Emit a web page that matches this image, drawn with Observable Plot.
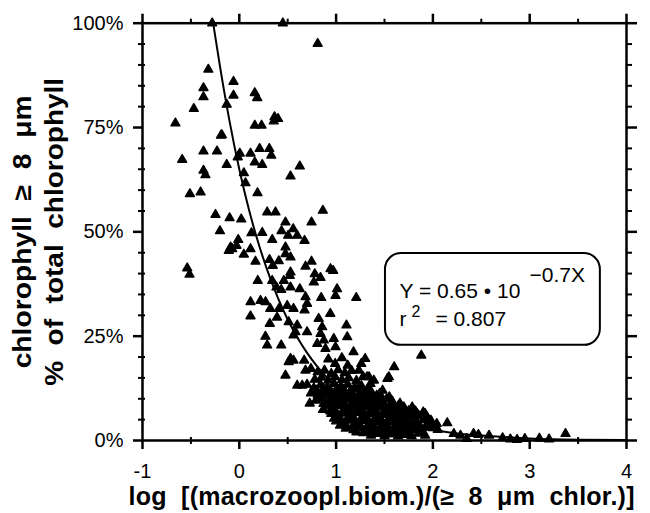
<!DOCTYPE html>
<html><head><meta charset="utf-8">
<script src="https://cdn.jsdelivr.net/npm/d3@7"></script>
<script src="https://cdn.jsdelivr.net/npm/@observablehq/plot@0.6"></script>
<style>body{margin:0;background:#fff} svg{display:block}</style>
</head><body><div id="chart"></div>
<script>
// ---- data ----
const xTicks = [-1, 0, 1, 2, 3, 4];
const xHalfTicks = [-0.5, 0.5, 1.5, 2.5, 3.5];
const yTicks = [0, 25, 50, 75, 100];
const yMinorTicks = [5, 10, 15, 20, 30, 35, 40, 45, 55, 60, 65, 70, 80, 85, 90, 95];

// scattered observations (x = log ratio, y = % of total chlorophyll)
const ptX = [
  -0.28,0.45,0.81,-0.32,-0.37,-0.37,-0.47,-0.66,-0.59,-0.37,
  -0.23,-0.37,-0.35,-0.51,-0.40,-0.19,-0.06,-0.06,0.16,0.185,
  -0.13,0.364,0.40,0.356,0.16,0.23,-0.18,0.005,-0.016,0.116,
  0.21,0.31,0.33,0.16,0.237,-0.13,0.625,0.529,0.047,0.064,
  0.188,0.288,0.374,0.863,-0.246,-0.10,0.02,0.477,0.746,-0.20,
  0.126,0.237,0.436,0.557,0.505,0.598,0.674,-0.011,-0.09,-0.029,
  0.34,0.116,0.477,0.047,-0.108,-0.073,0.477,0.529,0.312,0.346,
  0.408,0.167,0.746,0.684,0.942,0.97,-0.538,-0.514,0.529,0.522,
  0.78,0.839,0.191,0.34,0.384,0.46,0.433,0.529,0.625,0.77,
  1.01,0.994,0.846,1.208,0.684,0.70,0.116,0.116,0.219,0.271,
  0.32,0.41,0.495,0.56,0.674,0.94,0.39,0.315,0.51,0.598,
  0.58,0.56,0.70,0.82,0.856,0.839,0.873,0.805,0.89,0.976,
  0.994,1.107,1.115,0.27,0.288,0.433,0.529,0.56,0.51,0.67,
  0.684,0.477,0.598,0.65,0.728,0.866,1.18,1.26,1.235,1.34,
  1.39,1.53,1.60,1.48,1.42,1.88,1.545,1.32,1.355,1.786,
  1.838,1.92,1.94,2.148,1.70,1.63,1.70,2.216,2.285,2.42,
  2.47,2.35,2.87,3.37,2.58,2.80,2.95,3.10,3.20,2.72
];
const ptY = [
  100,100,95.1,88.9,84.5,82.3,79.5,76.0,67.3,69.3,
  69.3,64.7,63.6,59.1,59.5,73.1,86.0,82.7,83.3,82.1,
  80.5,77.5,77.1,76.5,75.5,75.5,73.2,68.8,67.9,68.8,
  69.9,69.9,68.3,66.7,66.1,66.1,65.7,63.3,64.1,61.7,
  59.3,54.7,54.7,55.1,54.1,53.3,53.0,52.3,52.3,50.2,
  49.7,49.8,50.2,50.7,49.1,49.1,47.9,48.1,46.3,46.7,
  48.1,45.9,46.3,44.6,45.5,45.9,44.7,43.9,43.3,41.9,
  43.0,42.9,42.9,41.7,41.1,40.7,41.3,39.8,40.3,39.5,
  39.9,39.0,38.3,38.3,36.7,38.3,36.1,36.7,36.3,37.9,
  36.3,34.7,34.2,34.2,34.4,32.8,33.2,29.8,33.5,33.2,
  31.6,31.6,32.3,31.6,31.2,30.4,29.5,28.0,28.4,27.6,
  26.0,25.2,26.0,29.2,27.2,25.6,24.0,23.2,22.0,24.4,
  22.4,27.6,24.8,24.9,22.8,22.8,19.6,19.2,18.8,19.2,
  16.8,15.6,13.2,13.2,8.9,7.4,21.2,18.4,16.8,15.2,
  14.4,14.8,17.6,12.0,10.8,20.4,15.2,15.2,13.6,8.0,
  6.4,6.4,5.6,4.2,8.0,4.0,3.2,1.6,1.2,1.6,
  1.4,0.4,0.2,1.6,1.2,0.3,0.4,0.5,0.3,0.6
];
// dense cluster of observations
const denseX = [
  0.92,0.99,1.06,1.12,1.30,
  0.74,0.81,0.88,0.95,1.02,1.09,1.16,
  0.78,0.85,0.92,0.99,1.06,1.13,1.21,1.28,
  0.70,0.77,0.84,0.91,0.98,1.05,1.12,1.19,1.26,1.33,
  0.74,0.81,0.88,0.95,1.02,1.09,1.16,1.23,1.30,1.37,1.45,1.55,
  0.79,0.86,0.93,1.00,1.07,1.14,1.21,1.28,1.35,1.42,1.49,1.58,1.66,
  0.91,0.97,1.04,1.11,1.18,1.25,1.32,1.39,1.46,1.53,1.60,1.75,
  0.95,1.02,1.09,1.16,1.23,1.30,1.37,1.44,1.51,1.58,1.65,1.72,1.80,
  1.00,1.07,1.14,1.21,1.28,1.35,1.42,1.49,1.56,1.77,1.85,1.98,
  1.10,1.18,1.25,1.32,1.39,1.46,1.53,1.60,1.67,1.74,1.81,1.89,2.05,
  1.36,1.43,1.50,1.57,1.64,1.71,1.78,1.92,
  0.80,0.87,0.94,1.01,1.08,1.15,1.22,1.29,1.36,
  0.83,0.90,0.97,1.04,1.11,1.18,1.25,1.32,1.39,1.46,1.52,
  0.87,0.94,1.01,1.08,1.15,1.22,1.29,1.36,1.43,1.50,1.57,1.64,
  0.94,1.00,1.07,1.14,1.21,1.28,1.35,1.42,1.49,1.56,1.63,1.70,
  0.98,1.05,1.12,1.19,1.26,1.33,1.40,1.47,1.54,1.61,1.68,1.76,
  1.04,1.11,1.18,1.25,1.32,1.39,1.46,1.53,1.60,1.67,1.74,1.81,1.92,
  1.21,1.28,1.35,1.42,1.49,1.56,1.63,1.70,1.85,
  1.62,1.69,1.76,1.83,1.90,1.96,1.66,1.73,1.80,1.87,1.94,2.00,
  1.62,1.68,1.82,1.90,1.72,1.78,1.86,1.93,1.98,2.04
];
const denseY = [
  19.5,18.4,19.8,18.0,19.6,
  17.2,16.4,16.8,16.0,16.9,16.2,16.7,
  14.6,15.1,14.4,15.2,14.5,15.0,14.3,15.3,
  13.4,12.6,13.3,12.8,13.6,12.9,13.4,12.7,13.1,12.4,
  11.3,10.9,11.6,11.0,11.7,11.1,11.5,10.8,11.4,10.6,11.2,10.4,
  9.6,10.0,9.4,9.9,9.3,9.8,9.2,9.7,9.1,9.6,9.0,9.4,8.9,
  8.2,7.7,8.3,7.6,8.1,7.5,8.0,7.4,7.9,7.3,7.8,7.1,
  6.4,5.9,6.5,6.0,6.6,5.8,6.3,5.7,6.2,5.6,6.1,5.5,5.9,
  4.6,4.1,4.8,4.2,4.7,4.0,4.5,3.9,4.4,4.3,3.8,3.6,
  2.9,2.5,3.0,2.4,2.8,2.2,2.7,2.1,2.6,2.0,2.5,2.3,2.6,
  1.2,1.6,1.1,1.5,1.0,1.4,1.1,1.2,
  12.0,12.4,12.1,12.5,12.2,12.0,12.3,11.9,11.8,
  10.3,10.6,10.2,10.5,10.4,10.1,10.3,10.0,10.2,10.1,9.9,
  8.8,8.6,8.9,8.7,8.5,8.8,8.6,8.4,8.7,8.3,8.5,8.2,
  7.0,6.8,7.1,6.9,7.2,6.7,7.0,6.6,6.9,6.5,6.8,6.4,
  5.3,5.0,5.4,5.1,5.3,4.9,5.2,4.8,5.1,4.9,5.0,4.7,
  3.6,3.4,3.7,3.5,3.3,3.6,3.2,3.5,3.1,3.4,3.2,3.0,3.1,
  2.0,1.8,2.1,1.9,1.7,2.0,1.8,1.6,1.7,
  5.2,4.6,5.0,4.5,4.9,4.4,3.8,3.5,3.7,3.3,3.6,3.0,
  7.3,7.6,7.0,6.8,6.6,6.2,5.8,5.3,4.8,4.0
];
// fitted curve (Y = 0.65·10^(−0.7X))
const fitX = [-0.27,-0.2,-0.1,0,0.1,0.2,0.3,0.4,0.5,0.6,0.7,0.8,0.9,1.0,1.2,1.4,1.6,1.8,2.0,2.25,2.5,3.0,3.5,4.0];
const fitY = [100,89.7,76.4,65,55.3,47.1,40.1,34.1,29.0,24.7,21.0,17.9,15.2,13.0,9.4,6.8,4.9,3.6,2.6,1.7,1.2,0.5,0.2,0.1];

const xTitle = "log  [(macrozoopl.biom.)/(\u2265  8  \u03bcm  chlor.)]";
const yTitle1 = "chlorophyll  \u2265  8  \u03bcm";
const yTitle2 = "%  of  total  chlorophyll";
const eqMain = "Y = 0.65 \u2022 10";
const eqExp = "\u22120.7X";
const r2Base = "r";
const r2Sup = "2";
const r2Value = "= 0.807";

// ---- layout ----
const W = 650, H = 513, mL = 142, mR = 24, mT = 22.7, mB = 73;
const pw = W - mL - mR, ph = H - mT - mB;
const font = "'Liberation Sans', Arial, Helvetica, sans-serif";

const points = ptX.map((x, i) => ({x, y: ptY[i]}))
  .concat(denseX.map((x, i) => ({x, y: denseY[i]})));
const fit = fitX.map((x, i) => ({x, y: fitY[i]}));

const chart = Plot.plot({
  width: W, height: H,
  marginLeft: mL, marginRight: mR, marginTop: mT, marginBottom: mB,
  style: {fontFamily: font, background: "white", color: "black", overflow: "visible"},
  x: {domain: [-1, 4]},
  y: {domain: [0, 100]},
  marks: [
    Plot.dot(points, {x: "x", y: "y", symbol: "triangle", r: 3.3, fill: "black", stroke: "black", strokeWidth: 1.4, strokeLinejoin: "round"}),
    Plot.line(fit, {x: "x", y: "y", curve: "natural", stroke: "black", strokeWidth: 2}),
    Plot.rect([0], {x1: 1.51, x2: 3.73, y1: 22.8, y2: 44.8, rx: 16, fill: "white", stroke: "black", strokeWidth: 2}),
    Plot.text([eqMain], {frameAnchor: "top-left", dx: 399 - mL, dy: 297 - mT, textAnchor: "start", lineAnchor: "bottom", fontSize: 21}),
    Plot.text([eqExp], {frameAnchor: "top-left", dx: 529 - mL, dy: 281 - mT, textAnchor: "start", lineAnchor: "bottom", fontSize: 21}),
    Plot.text([r2Base], {frameAnchor: "top-left", dx: 399 - mL, dy: 325 - mT, textAnchor: "start", lineAnchor: "bottom", fontSize: 21}),
    Plot.text([r2Sup], {frameAnchor: "top-left", dx: 411 - mL, dy: 316 - mT, textAnchor: "start", lineAnchor: "bottom", fontSize: 16}),
    Plot.text([r2Value], {frameAnchor: "top-left", dx: 435 - mL, dy: 325 - mT, textAnchor: "start", lineAnchor: "bottom", fontSize: 21}),
    Plot.frame({stroke: "black", strokeWidth: 2.5}),
    // left axis
    Plot.axisY(yTicks, {anchor: "left", tickSize: 9, tickPadding: 10, tickFormat: d => d + "%", fontSize: 20, label: null, strokeWidth: 2.5}),
    Plot.tickY(yMinorTicks, {y: d => d, insetLeft: -4, insetRight: pw - 3, stroke: "black", strokeWidth: 2}),
    // right axis
    Plot.axisY(yMinorTicks, {anchor: "right", tickSize: 5, tickFormat: () => "", label: null, strokeWidth: 2}),
    Plot.axisY(yTicks, {anchor: "right", tickSize: 10, tickFormat: () => "", label: null, strokeWidth: 2.5}),
    // top axis
    Plot.axisX(xTicks, {anchor: "top", tickSize: 10, tickFormat: () => "", label: null, strokeWidth: 2.5}),
    Plot.axisX(xHalfTicks, {anchor: "top", tickSize: 5, tickFormat: () => "", label: null, strokeWidth: 2}),
    // bottom axis
    Plot.axisX(xTicks, {anchor: "bottom", tickSize: 9, tickPadding: 14, tickFormat: d => String(d), fontSize: 20, label: null, strokeWidth: 2.5}),
    Plot.tickX(xHalfTicks, {x: d => d, insetTop: ph - 3, insetBottom: -4, stroke: "black", strokeWidth: 2}),
    // titles
    Plot.text([xTitle], {frameAnchor: "bottom", dx: -3, dy: 56, textAnchor: "middle", lineAnchor: "middle", fontSize: 25, fontWeight: "bold"}),
    Plot.text([yTitle1], {frameAnchor: "left", rotate: -90, dx: -120, textAnchor: "middle", lineAnchor: "middle", fontSize: 25, fontWeight: "bold"}),
    Plot.text([yTitle2], {frameAnchor: "left", rotate: -90, dx: -88, textAnchor: "middle", lineAnchor: "middle", fontSize: 25, fontWeight: "bold"})
  ]
});

d3.select(chart).selectAll("text").each(function() {
  const t = this.textContent;
  if (t === xTitle || t === yTitle1 || t === yTitle2) {
    this.style.whiteSpace = "pre";
    this.setAttribute("xml:space", "preserve");
  }
  if (t === xTitle) { this.setAttribute("textLength", 506); this.setAttribute("lengthAdjust", "spacing"); }
  if (t === yTitle1) { this.setAttribute("textLength", 273); this.setAttribute("lengthAdjust", "spacingAndGlyphs"); }
  if (t === yTitle2) { this.setAttribute("textLength", 308); this.setAttribute("lengthAdjust", "spacingAndGlyphs"); }
});

document.getElementById("chart").appendChild(chart);
</script>
</body></html>
